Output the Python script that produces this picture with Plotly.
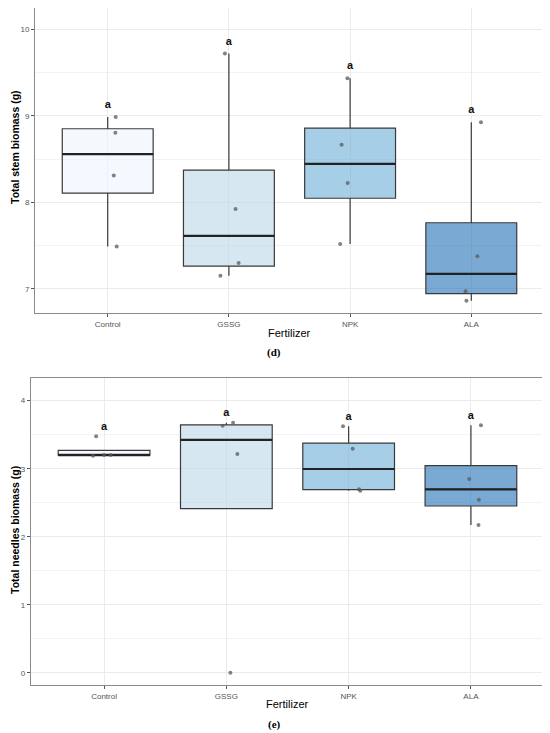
import numpy as np
import plotly.graph_objects as go

fertilizers = ["Control", "GSSG", "NPK", "ALA"]

# total stem biomass (g), four plants per treatment
stem_control = [8.986, 8.805, 8.31, 7.49]
stem_gssg = [9.72, 7.923, 7.298, 7.152]
stem_npk = [9.433, 8.666, 8.223, 7.518]
stem_ala = [8.925, 7.376, 6.97, 6.862]

# total needles biomass (g)
needles_control = [3.476, 3.19, 3.2, 3.2]
needles_gssg = [3.632, 3.676, 3.216, 0.0]
needles_npk = [3.623, 3.294, 2.697, 2.676]
needles_ala = [3.638, 2.848, 2.544, 2.172]

# jitter offsets of the points as drawn
jit_stem = [[0.066, 0.063, 0.05, 0.074],
            [-0.033, 0.055, 0.08, -0.07],
            [-0.022, -0.07, -0.02, -0.082],
            [0.08, 0.05, -0.047, -0.04]]
jit_needles = [[-0.065, -0.09, 0.0, 0.054],
               [-0.03, 0.055, 0.09, 0.033],
               [-0.046, 0.033, 0.085, 0.095],
               [0.082, -0.014, 0.065, 0.062]]

letters = ["a", "a", "a", "a"]

fills = ["rgba(239,243,255,0.6)", "rgba(189,215,231,0.6)",
         "rgba(107,174,214,0.6)", "rgba(33,113,181,0.6)"]

# the page body adds an 8px margin, so the figure is made smaller to fit the window
PAD = 8
W, H = 550 - PAD, 733 - PAD
BOX_W = 0.75


def stats(vals):
    v = np.array(vals)
    q1, med, q3 = np.percentile(v, [25, 50, 75])
    iqr = q3 - q1
    lo = v[v >= q1 - 1.5 * iqr].min()
    hi = v[v <= q3 + 1.5 * iqr].max()
    return q1, med, q3, min(lo, q1), max(hi, q3)


def px(x):
    return min(1, max(0, (x - PAD) / W))


def py(y):
    return min(1, max(0, 1 - (y - PAD) / H))


fig = go.Figure()

panels = [
    dict(groups=[stem_control, stem_gssg, stem_npk, stem_ala], jit=jit_stem,
         xa="x", ya="y", lab_off=0.135),
    dict(groups=[needles_control, needles_gssg, needles_npk, needles_ala], jit=jit_needles,
         xa="x2", ya="y2", lab_off=0.14),
]

for p in panels:
    for i, vals in enumerate(p["groups"]):
        xc = i + 1
        q1, med, q3, lo, hi = stats(vals)
        fig.add_trace(go.Box(
            x=[xc], q1=[q1], median=[med], q3=[q3], lowerfence=[lo], upperfence=[hi],
            width=BOX_W, whiskerwidth=0, fillcolor=fills[i],
            line=dict(color="#3a3a3a", width=1.2), boxpoints=False,
            xaxis=p["xa"], yaxis=p["ya"], showlegend=False, hoverinfo="skip"))
        # thicker median bar like ggplot
        fig.add_trace(go.Scatter(
            x=[xc - BOX_W / 2, xc + BOX_W / 2], y=[med, med], mode="lines",
            line=dict(color="#222222", width=2.2),
            xaxis=p["xa"], yaxis=p["ya"], showlegend=False, hoverinfo="skip"))
        fig.add_trace(go.Scatter(
            x=[xc + j for j in p["jit"][i]], y=vals, mode="markers",
            marker=dict(color="rgba(90,90,90,0.75)", size=4),
            xaxis=p["xa"], yaxis=p["ya"], showlegend=False, hoverinfo="skip"))
        fig.add_trace(go.Scatter(
            x=[xc], y=[max(vals) + p["lab_off"]], mode="text", text=[letters[i]],
            textfont=dict(family="Liberation Sans", size=11, color="#111111", weight="bold"),
            xaxis=p["xa"], yaxis=p["ya"], showlegend=False, hoverinfo="skip"))

axis_common = dict(
    showline=True, mirror=True, linecolor="#8a8a8a", linewidth=1,
    ticks="outside", ticklen=3, tickcolor="#555555",
    tickfont=dict(family="Liberation Sans", size=8, color="#555555"),
    showgrid=True, gridcolor="#ebebeb", gridwidth=1, zeroline=False,
    automargin=False,
)

fig.update_layout(
    width=W, height=H, margin=dict(l=0, r=0, t=0, b=0, autoexpand=False),
    paper_bgcolor="white", plot_bgcolor="white",
    xaxis=dict(domain=[px(35), px(544)], anchor="y", range=[0.4, 4.6],
               tickvals=[1, 2, 3, 4], ticktext=fertilizers, **axis_common),
    yaxis=dict(domain=[py(313), py(8)], anchor="x", range=[6.72, 10.246],
               tickvals=[7, 8, 9, 10],
               minor=dict(dtick=0.5, tick0=0, showgrid=True, gridcolor="#f3f3f3", gridwidth=0.7),
               **axis_common),
    xaxis2=dict(domain=[px(30.7), px(544.3)], anchor="y2", range=[0.4, 4.6],
                tickvals=[1, 2, 3, 4], ticktext=fertilizers, **axis_common),
    yaxis2=dict(domain=[py(685), py(377.7)], anchor="x2", range=[-0.181, 4.338],
                tickvals=[0, 1, 2, 3, 4],
                minor=dict(dtick=0.5, tick0=0, showgrid=True, gridcolor="#f3f3f3", gridwidth=0.7),
                **axis_common),
)

sans = "Liberation Sans"
notes = [
    dict(text="Fertilizer", x=px(289.5), y=py(333), font=dict(family=sans, size=11, color="black")),
    dict(text="<b>(d)</b>", x=px(274), y=py(352), font=dict(family="Liberation Serif", size=11, color="black")),
    dict(text="<b>Total stem biomass (g)</b>", x=px(15), y=py(147), textangle=-90,
         font=dict(family=sans, size=10.5, color="black")),
    dict(text="Fertilizer", x=px(287.5), y=py(704), font=dict(family=sans, size=11, color="black")),
    dict(text="<b>(e)</b>", x=px(274), y=py(724), font=dict(family="Liberation Serif", size=11, color="black")),
    dict(text="<b>Total needles biomass (g)</b>", x=px(15), y=py(530), textangle=-90,
         font=dict(family=sans, size=10.5, color="black")),
]
for n in notes:
    fig.add_annotation(xref="paper", yref="paper", showarrow=False,
                       xanchor="center", yanchor="middle", **n)

fig.write_html("out.html")
